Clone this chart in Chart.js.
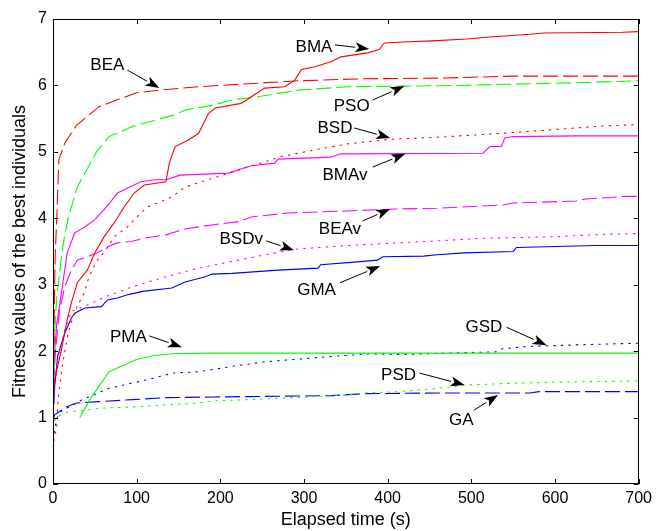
<!DOCTYPE html>
<html>
<head>
<meta charset="utf-8">
<script src="https://cdn.jsdelivr.net/npm/chart.js@4"></script>
<style>
html,body{margin:0;padding:0;background:#fff;}
canvas{display:block;}
</style>
</head>
<body>
<canvas id="c" width="657" height="531"></canvas>
<script>
// ---- data ----
const xTicks = [0,100,200,300,400,500,600,700];
const yTicks = [0,1,2,3,4,5,6,7];
const xTitle = 'Elapsed time (s)';
const yTitle = 'Fitness values of the best individuals';

const seriesNames = ['BMA','BEA','PSO','BSD','BMAv','BEAv','BSDv','GMA','PMA','GSD','PSD','GA'];

const bmaX = [0.5,2,10,17,22,29,41,50,61,73,85,97,109,135,139,146,162,174,186,194,225,237,253,277,289,297,313,333,344,376,390,396,412,453,495,522,570,586,681,700];
const bmaY = [1.4,1.57,2.02,2.47,2.73,3.03,3.22,3.48,3.72,3.93,4.17,4.38,4.5,4.55,4.83,5.08,5.18,5.28,5.58,5.66,5.73,5.83,5.96,5.98,6.08,6.24,6.28,6.36,6.43,6.49,6.54,6.64,6.65,6.67,6.7,6.73,6.77,6.79,6.8,6.81];

const beaX = [0.5,1.5,2.5,4.5,7,14,28,55,76,100,127,174,293,372,459,551,700];
const beaY = [1.5,2.6,3.4,4.0,4.88,5.13,5.4,5.68,5.78,5.89,5.93,5.98,6.07,6.1,6.11,6.14,6.14];

const psoX = [0.5,2,4.5,8,12,18,29,47,52,67,95,123,146,158,190,214,245,293,352,419,483,625,700];
const psoY = [1.4,2.3,2.8,3.2,3.6,4.0,4.47,4.88,5.0,5.23,5.38,5.48,5.56,5.63,5.7,5.78,5.83,5.93,5.98,5.99,6.0,6.04,6.07];

const bsdX = [1,4.5,6,11,18,26,37,43,53,63,73,89,105,113,142,158,190,241,273,313,352,404,459,538,593,657,700];
const bsdY = [0.65,0.85,1.27,1.77,2.27,2.6,2.87,3.12,3.37,3.52,3.72,3.87,4.08,4.17,4.32,4.47,4.6,4.8,4.93,5.03,5.12,5.19,5.22,5.28,5.33,5.39,5.41];

const bmavX = [0.5,2,4.5,10,14,17,26,38,50,61,69,77,93,105,121,135,152,210,226,237,265,269,332,344,514,522,536,540,550,625,700];
const bmavY = [1.6,2.0,2.42,2.87,3.22,3.48,3.78,3.87,3.98,4.13,4.25,4.38,4.48,4.55,4.58,4.58,4.65,4.68,4.75,4.79,4.83,4.89,4.92,4.97,4.98,5.08,5.08,5.21,5.23,5.24,5.24];

const beavX = [0.5,3,6,8,14,22,29,41,53,65,77,93,109,135,158,190,222,237,281,352,408,459,538,550,625,637,685,700];
const beavY = [1.5,2.0,2.4,2.62,2.97,3.22,3.37,3.42,3.48,3.57,3.63,3.65,3.7,3.75,3.84,3.9,3.95,4.02,4.08,4.11,4.14,4.15,4.2,4.23,4.26,4.29,4.33,4.33];

const bsdvX = [1,6,14,22,37,63,95,135,174,214,253,293,352,412,459,514,593,661,700];
const bsdvY = [1.3,1.9,2.32,2.6,2.67,2.82,2.97,3.12,3.25,3.35,3.45,3.54,3.59,3.63,3.66,3.7,3.72,3.76,3.77];

const gmaX = [1,2,5.5,14,22,26,38,58,65,77,89,97,107,142,158,182,190,214,269,317,320,360,388,394,443,459,491,550,554,649,700];
const gmaY = [1.2,1.47,1.92,2.27,2.5,2.57,2.65,2.67,2.77,2.8,2.85,2.87,2.9,2.95,3.04,3.12,3.16,3.17,3.22,3.25,3.3,3.34,3.37,3.42,3.43,3.45,3.48,3.5,3.56,3.59,3.59];

const pmaX = [32,44,67,99,119,143,182,700];
const pmaY = [1.0,1.27,1.69,1.87,1.93,1.96,1.97,1.97];

const gsdX = [0,4,8,35,67,95,119,143,174,214,253,293,333,380,416,471,530,534,566,641,700];
const gsdY = [0.66,0.96,1.08,1.27,1.44,1.52,1.59,1.67,1.69,1.77,1.84,1.88,1.92,1.96,1.95,1.97,1.99,2.03,2.07,2.1,2.12];

const psdX = [2,4,16,32,55,95,135,174,190,253,352,372,412,459,495,554,633,700];
const psdY = [0.95,1.0,1.08,1.1,1.14,1.16,1.19,1.22,1.25,1.28,1.34,1.37,1.39,1.44,1.49,1.52,1.54,1.55];

const gaX = [0,2,16,28,55,95,135,190,333,372,459,570,581,700];
const gaY = [0.95,1.04,1.16,1.22,1.24,1.27,1.3,1.31,1.33,1.36,1.37,1.37,1.39,1.39];

// annotation labels: text position, arrow start and arrow tip, in data units
const labelTexts = ['BEA','BMA','PSO','BSD','BMAv','BEAv','BSDv','GMA','GSD','PMA','PSD','GA'];
const labelAt    = [[65,6.31],[312,6.57],[357,5.68],[337,5.36],[349,4.65],[343,3.83],[225,3.69],[315,2.91],[515,2.36],[90,2.21],[413,1.64],[488,0.96]];
const arrowFrom  = [[89,6.23],[337,6.61],[382,5.78],[360,5.36],[382,4.77],[370,3.96],[255,3.66],[343,3.03],[542,2.36],[115,2.23],[438,1.67],[503,1.11]];
const arrowTo    = [[127,5.96],[378,6.55],[420,5.99],[403,5.21],[421,4.97],[403,4.14],[288,3.52],[391,3.28],[590,2.09],[154,2.06],[492,1.49],[532,1.34]];

// ---- styles ----
const RED='#ff0000', GREEN='#00ff00', BLUE='#0000ff', MAG='#ff00ff';
const SOLID=[], DASH=[15,5], DOT=[1.5,6];
const seriesDefs = [
  [bmaX,bmaY,RED,SOLID],[beaX,beaY,RED,DASH],[psoX,psoY,GREEN,DASH],[bsdX,bsdY,RED,DOT],
  [bmavX,bmavY,MAG,SOLID],[beavX,beavY,MAG,DASH],[bsdvX,bsdvY,MAG,DOT],[gmaX,gmaY,BLUE,SOLID],
  [pmaX,pmaY,GREEN,SOLID],[gsdX,gsdY,BLUE,DOT],[psdX,psdY,GREEN,DOT],[gaX,gaY,BLUE,DASH]
];
const FONT = 'Liberation Sans, Arial, sans-serif';

const datasets = seriesDefs.map((d,i)=>({
  label: seriesNames[i],
  data: d[0].map((x,j)=>({x:x, y:d[1][j]})),
  borderColor: d[2],
  borderWidth: 1.1,
  borderDash: d[3],
  borderCapStyle: d[3]===DOT ? 'round' : 'butt',
  pointRadius: 0,
  tension: 0,
  fill: false
}));

const framePlugin = {
  id:'frame',
  beforeDraw(chart){
    const c=chart.ctx; c.save(); c.fillStyle='#fff'; c.fillRect(0,0,chart.width,chart.height); c.restore();
  },
  afterDatasetsDraw(chart){
    const c=chart.ctx, a=chart.chartArea, xs=chart.scales.x, ys=chart.scales.y;
    c.save();
    c.strokeStyle='#000'; c.lineWidth=1; c.setLineDash([]);
    c.strokeRect(Math.round(a.left)+0.5, Math.round(a.top)+0.5, Math.round(a.right-a.left)-1, Math.round(a.bottom-a.top)-1);
    const tl=5;
    c.beginPath();
    xTicks.forEach(v=>{const p=Math.round(xs.getPixelForValue(v))+0.5;
      c.moveTo(p,a.bottom); c.lineTo(p,a.bottom-tl); c.moveTo(p,a.top); c.lineTo(p,a.top+tl);});
    yTicks.forEach(v=>{const p=Math.round(ys.getPixelForValue(v))+0.5;
      c.moveTo(a.left,p); c.lineTo(a.left+tl,p); c.moveTo(a.right,p); c.lineTo(a.right-tl,p);});
    c.stroke();
    // annotations
    c.fillStyle='#000'; c.font='17px '+FONT; c.textAlign='center'; c.textBaseline='middle';
    labelTexts.forEach((t,i)=>{
      c.fillText(t, xs.getPixelForValue(labelAt[i][0]), ys.getPixelForValue(labelAt[i][1]));
      const x0=xs.getPixelForValue(arrowFrom[i][0]), y0=ys.getPixelForValue(arrowFrom[i][1]);
      const x1=xs.getPixelForValue(arrowTo[i][0]), y1=ys.getPixelForValue(arrowTo[i][1]);
      const ang=Math.atan2(y1-y0,x1-x0), L=14, W=5;
      const bx=x1-L*Math.cos(ang), by=y1-L*Math.sin(ang);
      c.beginPath(); c.moveTo(x0,y0); c.lineTo(bx,by); c.stroke();
      c.beginPath(); c.moveTo(x1,y1);
      c.lineTo(bx+W*Math.sin(ang), by-W*Math.cos(ang));
      c.lineTo(x1-L*0.75*Math.cos(ang), y1-L*0.75*Math.sin(ang));
      c.lineTo(bx-W*Math.sin(ang), by+W*Math.cos(ang));
      c.closePath(); c.fill();
    });
    c.restore();
  }
};

new Chart(document.getElementById('c'), {
  type:'line',
  data:{datasets:datasets},
  options:{
    responsive:false, animation:false, devicePixelRatio:1,
    plugins:{legend:{display:false}, tooltip:{enabled:false}},
    layout:{padding:{left:0,right:14,top:19,bottom:0}},
    scales:{
      x:{type:'linear', min:0, max:700,
        afterBuildTicks(s){ s.ticks = xTicks.map(v=>({value:v})); },
        ticks:{font:{family:FONT,size:16}, color:'#000', padding:5, maxRotation:0, autoSkip:false},
        grid:{display:false, drawTicks:false, tickLength:0}, border:{display:false},
        title:{display:true, text:xTitle, color:'#000', font:{family:FONT,size:18}, padding:{top:0,bottom:0}},
        afterFit(s){ s.height=47; }
      },
      y:{type:'linear', min:0, max:7,
        afterBuildTicks(s){ s.ticks = yTicks.map(v=>({value:v})); },
        ticks:{font:{family:FONT,size:16}, color:'#000', padding:6, autoSkip:false},
        grid:{display:false, drawTicks:false, tickLength:0}, border:{display:false},
        title:{display:true, text:yTitle, color:'#000', font:{family:FONT,size:18}, padding:{top:9,bottom:0}},
        afterFit(s){ s.width=53; }
      }
    }
  },
  plugins:[framePlugin]
});
</script>
</body>
</html>
